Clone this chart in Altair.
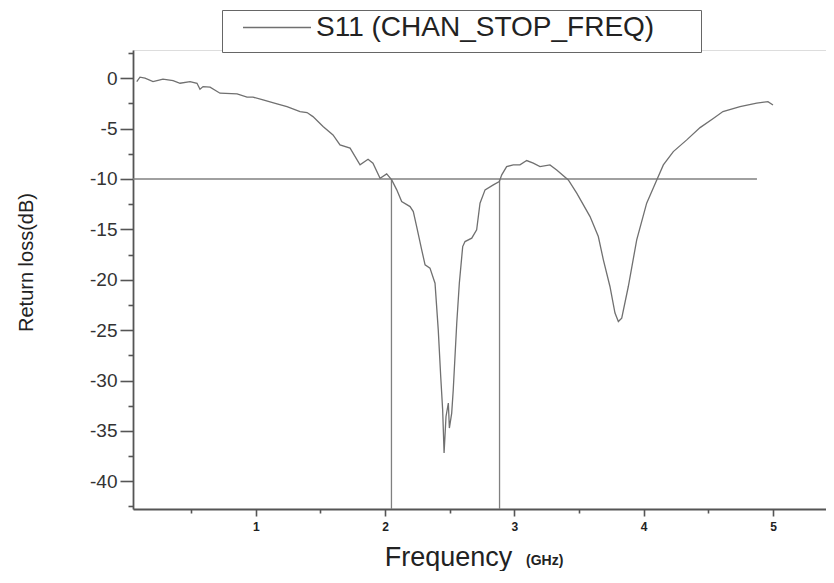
import altair as alt
import pandas as pd

# ---- data ----
series_name = "S11 (CHAN_STOP_FREQ)"
freq_ghz = [0.079, 0.104, 0.143, 0.205, 0.282, 0.360, 0.414, 0.491, 0.545, 0.568,
            0.592, 0.646, 0.723, 0.855, 0.932, 0.978, 1.056, 1.164, 1.241, 1.342,
            1.396, 1.442, 1.520, 1.597, 1.651, 1.729, 1.806, 1.868, 1.906, 1.961,
            2.012, 2.051, 2.090, 2.128, 2.193, 2.218, 2.244, 2.283, 2.309, 2.347,
            2.386, 2.411, 2.430, 2.445, 2.456, 2.471, 2.489, 2.497, 2.515, 2.527,
            2.554, 2.574, 2.600, 2.618, 2.670, 2.708, 2.734, 2.773, 2.837, 2.883,
            2.902, 2.940, 2.991, 3.043, 3.095, 3.146, 3.198, 3.275, 3.327, 3.417,
            3.482, 3.585, 3.649, 3.688, 3.739, 3.778, 3.804, 3.830, 3.881, 3.946,
            4.023, 4.101, 4.152, 4.229, 4.333, 4.436, 4.538, 4.613, 4.745, 4.874,
            4.961, 5.000]
s11_db = [-0.34, 0.10, 0.00, -0.34, -0.10, -0.24, -0.50, -0.34, -0.50, -1.09,
          -0.83, -0.89, -1.49, -1.56, -1.88, -1.88, -2.15, -2.55, -2.82, -3.31,
          -3.41, -3.81, -4.80, -5.63, -6.62, -6.94, -8.60, -8.04, -8.43, -9.92,
          -9.49, -10.09, -11.08, -12.24, -12.74, -13.23, -14.72, -17.03, -18.52, -18.85,
          -20.34, -24.97, -29.60, -32.91, -37.20, -33.57, -32.24, -34.72, -33.23, -30.92,
          -24.31, -20.34, -16.71, -16.21, -15.87, -15.05, -12.40, -11.08, -10.59, -10.26,
          -9.59, -8.77, -8.60, -8.60, -8.17, -8.43, -8.77, -8.60, -9.10, -10.09,
          -11.41, -13.73, -15.71, -18.02, -20.67, -23.31, -24.15, -23.81, -20.67, -16.04,
          -12.40, -10.09, -8.60, -7.28, -6.12, -4.90, -4.00, -3.31, -2.82, -2.48,
          -2.32, -2.65]

ref_level_db = -10
ref_line_end_ghz = 4.876
band_edges_ghz = [2.049, 2.885]

x_domain = [0.05, 5.41]
y_domain = [-42.75, 2.8]
x_major = [1, 2, 3, 4, 5]
x_minor = [0.5, 1.5, 2.5, 3.5, 4.5]
y_major = [-40, -35, -30, -25, -20, -15, -10, -5, 0]
y_minor = [-42.5, -37.5, -32.5, -27.5, -22.5, -17.5, -12.5, -7.5, -2.5, 2.5]
x_unit = "(GHz)"

# ---- tables ----
curve = pd.DataFrame({"freq": freq_ghz, "s11": s11_db, "series": series_name})
hline = pd.DataFrame({"x1": [x_domain[0]], "x2": [ref_line_end_ghz], "y": [ref_level_db]})
vlines = pd.DataFrame({"x": band_edges_ghz, "y1": ref_level_db, "y2": y_domain[0]})
unit_df = pd.DataFrame({"t": [x_unit]})

FONT = "Liberation Sans"
AX = "#555"

xscale = alt.Scale(domain=x_domain, nice=False, zero=False)
yscale = alt.Scale(domain=y_domain, nice=False, zero=False)

x_axis = alt.Axis(
    values=x_major, labelExpr="toString(datum.value)", orient="bottom",
    tickSize=7, labelOverlap=False,
    labelFont=FONT, labelFontSize=12, labelFontWeight="bold", labelColor="#222",
    labelPadding=5,
    title="Frequency", titleFont=FONT, titleFontSize=27, titleFontWeight="normal",
    titleColor="#222", titleX=315, titleY=56, titleAlign="center",
    titleBaseline="alphabetic", titleAnchor="start",
    domainColor=AX, domainWidth=1.8, tickColor=AX, tickWidth=1.6, grid=False,
)
y_axis = alt.Axis(
    values=y_major, labelExpr="toString(datum.value)", orient="left",
    tickSize=13, labelOverlap=False,
    labelFont=FONT, labelFontSize=19, labelColor="#333", labelPadding=3,
    title="Return loss(dB)", titleFont=FONT, titleFontSize=20, titleFontWeight="normal",
    titleColor="#222", titleX=-97, titleY=212, titleAlign="center", titleAngle=270,
    titleBaseline="bottom", titleAnchor="start",
    domainColor=AX, domainWidth=1.8, tickColor=AX, tickWidth=1.6, grid=False,
)
x_minor_axis = alt.Axis(values=x_minor, orient="bottom", tickSize=4, labels=False,
                        domain=False, title=None, tickColor=AX, tickWidth=1.6, grid=False)
y_minor_axis = alt.Axis(values=y_minor, orient="left", tickSize=5, labels=False,
                        domain=False, title=None, tickColor=AX, tickWidth=1.6, grid=False)

line = alt.Chart(curve).mark_line(strokeWidth=1.3, interpolate="linear").encode(
    x=alt.X("freq:Q", scale=xscale, axis=x_axis),
    y=alt.Y("s11:Q", scale=yscale, axis=y_axis),
    color=alt.Color(
        "series:N",
        scale=alt.Scale(range=["#707070"]),
        legend=alt.Legend(
            title=None, orient="none", legendX=89, legendY=-40,
            symbolType="stroke", symbolSize=4624, symbolStrokeWidth=1.5,
            symbolOffset=10, clipHeight=15,
            labelFont=FONT, labelFontSize=28, labelColor="#222", labelOffset=4,
            labelLimit=700,
            labelExpr="datum.label + '\u00a0\u00a0\u2800'",
            strokeColor="#666", fillColor="white", padding=10,
        ),
    ),
)

hrule = alt.Chart(hline).mark_rule(color="#808080", strokeWidth=1.3).encode(
    x=alt.X("x1:Q", scale=xscale, axis=x_minor_axis), x2="x2:Q",
    y=alt.Y("y:Q", scale=yscale, axis=y_minor_axis),
)
vrule = alt.Chart(vlines).mark_rule(color="#808080", strokeWidth=1.3).encode(
    x=alt.X("x:Q", scale=xscale, axis=None),
    y=alt.Y("y1:Q", scale=yscale, axis=None), y2="y2:Q",
)
unit = alt.Chart(unit_df).mark_text(
    font=FONT, fontSize=14, fontWeight="bold", color="#222",
    align="left", baseline="alphabetic",
).encode(x=alt.value(393), y=alt.value(515), text="t:N")

chart = alt.layer(hrule, vrule, line, unit).resolve_axis(
    x="independent", y="independent"
).properties(
    width=693, height=459,
    autosize=alt.AutoSizeParams(type="none"),
    padding={"left": 125, "top": 42, "right": 0, "bottom": 62},
).configure_view(stroke=None).configure(background="white")

chart.save("out.html", embed_options={"renderer": "svg", "actions": False})
